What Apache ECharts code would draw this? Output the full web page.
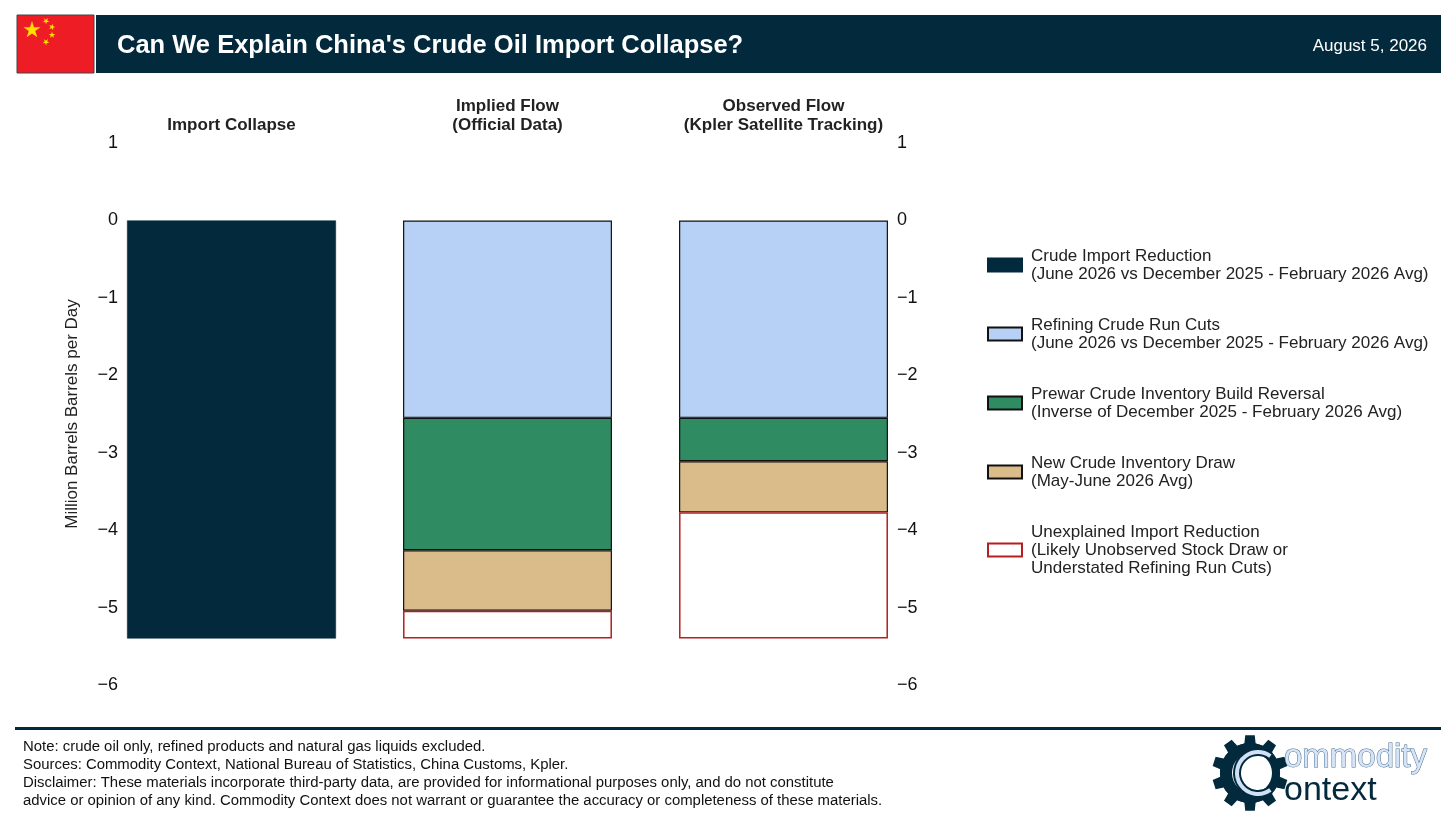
<!DOCTYPE html>
<html>
<head>
<meta charset="utf-8">
<script src="https://cdn.jsdelivr.net/npm/echarts@6/dist/echarts.min.js"></script>
<style>
html,body{margin:0;padding:0;background:#fff;}
#chart{width:1456px;height:831px;}
</style>
</head>
<body>
<div id="chart"></div>
<script>
// ---- data ----
const categories = ['Import Collapse', 'Implied Flow\n(Official Data)', 'Observed Flow\n(Kpler Satellite Tracking)'];
const importReduction = [-5.40, null, null];
const refiningCuts   = [null, -2.55, -2.55];
const prewarReversal = [null, -1.71, -0.56];
const newDraw        = [null, -0.78, -0.66];
const unexplained    = [null, -0.36, -1.63];
const seriesNames = [
  'Crude Import Reduction\n(June 2026 vs December 2025 - February 2026 Avg)',
  'Refining Crude Run Cuts\n(June 2026 vs December 2025 - February 2026 Avg)',
  'Prewar Crude Inventory Build Reversal\n(Inverse of December 2025 - February 2026 Avg)',
  'New Crude Inventory Draw\n(May-June 2026 Avg)',
  'Unexplained Import Reduction\n(Likely Unobserved Stock Draw or\nUnderstated Refining Run Cuts)'
];
const footerLines = [
  'Note: crude oil only, refined products and natural gas liquids excluded.',
  'Sources: Commodity Context, National Bureau of Statistics, China Customs, Kpler.',
  'Disclaimer: These materials incorporate third-party data, are provided for informational purposes only, and do not constitute',
  'advice or opinion of any kind. Commodity Context does not warrant or guarantee the accuracy or completeness of these materials.'
];

const FONT = '"Liberation Sans", Arial, sans-serif';
const NAVY = '#03293d';
const colors = [NAVY, '#b7d0f5', '#2e8b62', '#dabc8b', '#ffffff'];
const borders = [NAVY, '#111111', '#111111', '#111111', '#b51f1f'];
const dataSets = [importReduction, refiningCuts, prewarReversal, newDraw, unexplained];

function star(cx, cy, r, rot) {
  const pts = [];
  for (let i = 0; i < 10; i++) {
    const rr = i % 2 === 0 ? r : r * 0.382;
    const a = -Math.PI / 2 + rot + i * Math.PI / 5;
    pts.push([cx + rr * Math.cos(a), cy + rr * Math.sin(a)]);
  }
  return pts;
}
function gear(cx, cy, rOut, rIn, teeth) {
  const pts = [];
  const step = 2 * Math.PI / teeth;
  for (let i = 0; i < teeth; i++) {
    const a0 = i * step;
    pts.push([cx + rIn * Math.cos(a0), cy + rIn * Math.sin(a0)]);
    pts.push([cx + rIn * Math.cos(a0 + step * 0.2), cy + rIn * Math.sin(a0 + step * 0.2)]);
    pts.push([cx + rOut * Math.cos(a0 + step * 0.3), cy + rOut * Math.sin(a0 + step * 0.3)]);
    pts.push([cx + rOut * Math.cos(a0 + step * 0.7), cy + rOut * Math.sin(a0 + step * 0.7)]);
    pts.push([cx + rIn * Math.cos(a0 + step * 0.8), cy + rIn * Math.sin(a0 + step * 0.8)]);
  }
  return pts;
}

const graphics = [
  // header
  {type:'rect', shape:{x:17,y:15,width:77,height:58}, style:{fill:'#ee1c25', stroke:'#444', lineWidth:1}},
  {type:'polygon', shape:{points:star(32,30,9,0)}, style:{fill:'#ffde00'}},
  {type:'polygon', shape:{points:star(46,21,3.5,0.6)}, style:{fill:'#ffde00'}},
  {type:'polygon', shape:{points:star(52,27,3.5,0.3)}, style:{fill:'#ffde00'}},
  {type:'polygon', shape:{points:star(52,35,3.5,0)}, style:{fill:'#ffde00'}},
  {type:'polygon', shape:{points:star(46,42,3.5,0.6)}, style:{fill:'#ffde00'}},
  {type:'rect', shape:{x:96,y:15,width:1345,height:58}, style:{fill:NAVY}},
  {type:'text', x:117, y:46, style:{text:"Can We Explain China's Crude Oil Import Collapse?", fill:'#fff', font:'bold 25.5px '+FONT, verticalAlign:'middle'}},
  {type:'text', x:1427, y:46, style:{text:'August 5, 2026', fill:'#fff', font:'17px '+FONT, align:'right', verticalAlign:'middle'}},
  // footer
  {type:'rect', shape:{x:15,y:727,width:1426,height:3}, style:{fill:NAVY}},
  // logo
  {type:'polygon', shape:{points:gear(1250,773,38,30,10)}, style:{fill:NAVY}},
  {type:'circle', shape:{cx:1250,cy:773,r:30}, style:{fill:NAVY}},
  {type:'circle', shape:{cx:1252,cy:773,r:20}, style:{fill:'#fff'}},
  {type:'arc', shape:{cx:1258,cy:773,r:21,startAngle:Math.PI*0.3,endAngle:Math.PI*1.7,clockwise:true}, style:{stroke:NAVY,lineWidth:8,fill:null}},
  {type:'arc', shape:{cx:1258,cy:773,r:21,startAngle:Math.PI*0.3,endAngle:Math.PI*1.7,clockwise:true}, style:{stroke:'#cfe0f7',lineWidth:4,fill:null}},
  {type:'text', x:1284, y:758, style:{text:'ommodity', fill:'#d6e4f7', stroke:'#4a6d8c', lineWidth:1, font:'33px '+FONT, verticalAlign:'middle'}},
  {type:'text', x:1284, y:791, style:{text:'ontext', fill:NAVY, font:'34px '+FONT, verticalAlign:'middle'}}
];
footerLines.forEach((t, i) => {
  graphics.push({type:'text', x:23, y:747 + i*18, style:{text:t, fill:'#111', font:'14.9px '+FONT, verticalAlign:'middle'}});
});

const series = dataSets.map((d, i) => ({
  name: seriesNames[i],
  type: 'bar',
  stack: 'total',
  data: d,
  barWidth: '75.7%',
  itemStyle: {color: colors[i], borderColor: borders[i], borderWidth: i === 0 ? 0.5 : (i === 4 ? 1.5 : 1.2)},
  emphasis: {disabled: true},
  xAxisIndex: 0,
  yAxisIndex: 0
}));

const yLabelFmt = v => (v < 0 ? '\u2212' + Math.abs(v) : String(v));

const option = {
  animation: false,
  backgroundColor: '#fff',
  textStyle: {fontFamily: FONT},
  grid: {left: 93.5, right: 1456 - 921.5, top: 143, bottom: 831 - 685, containLabel: false},
  xAxis: [{
    type: 'category',
    data: categories,
    position: 'top',
    axisLine: {show: false},
    axisTick: {show: false},
    axisLabel: {margin: 8.5, color: '#222', fontSize: 17, fontWeight: 'bold', fontFamily: FONT, lineHeight: 19, interval: 0}
  }],
  yAxis: [{
    type: 'value',
    min: -6, max: 1, interval: 1,
    position: 'left',
    name: 'Million Barrels Barrels per Day',
    nameLocation: 'middle',
    nameGap: 13,
    nameTextStyle: {fontSize: 17, color: '#222', fontFamily: FONT},
    axisLine: {show: false},
    axisTick: {show: false},
    splitLine: {show: false},
    axisLabel: {margin: -24.5, fontSize: 18, color: '#111', fontFamily: FONT, formatter: yLabelFmt}
  }, {
    type: 'value',
    min: -6, max: 1, interval: 1,
    position: 'right',
    axisLine: {show: false},
    axisTick: {show: false},
    splitLine: {show: false},
    axisLabel: {margin: -24.5, fontSize: 18, color: '#111', fontFamily: FONT, formatter: yLabelFmt}
  }],
  legend: {
    orient: 'vertical',
    left: 987,
    top: 247,
    padding: 0,
    icon: 'rect',
    itemWidth: 34,
    itemHeight: 13,
    itemGap: 33,
    selectedMode: false,
    textStyle: {fontSize: 17, color: '#222', fontFamily: FONT, lineHeight: 18, padding: [0,0,0,4]},
    data: seriesNames
  },
  series: series,
  graphic: graphics
};

const chart = echarts.init(document.getElementById('chart'), null, {renderer: 'canvas'});
chart.setOption(option);
</script>
</body>
</html>
